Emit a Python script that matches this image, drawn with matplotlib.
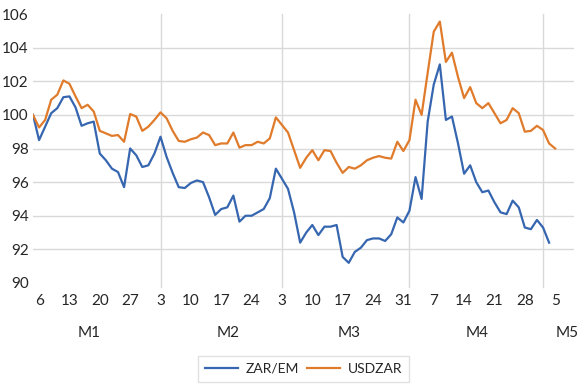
import numpy as np
import matplotlib
matplotlib.use('Agg')
import matplotlib.pyplot as plt

plt.rcParams['font.family'] = ['Lato', 'DejaVu Sans']

# daily index values (business days)
zar_em = [100.0, 98.5, 99.3, 100.1, 100.4, 101.05, 101.1, 100.45, 99.35, 99.5,
          99.6, 97.7, 97.3, 96.8, 96.6, 95.7, 98.0, 97.6, 96.9, 97.0,
          97.7, 98.7, 97.5, 96.55, 95.7, 95.65, 95.95, 96.1, 96.0, 95.1,
          94.05, 94.4, 94.5, 95.2, 93.65, 94.0, 94.0, 94.2, 94.4, 95.05,
          96.8, 96.2, 95.6, 94.2, 92.4, 93.0, 93.45, 92.85, 93.35, 93.35,
          93.45, 91.55, 91.2, 91.85, 92.1, 92.55, 92.65, 92.65, 92.5, 92.9,
          93.9, 93.6, 94.3, 96.3, 95.0, 99.6, 101.8, 103.0, 99.7, 99.9,
          98.3, 96.5, 97.0, 96.0, 95.4, 95.5, 94.8, 94.2, 94.1, 94.9,
          94.5, 93.3, 93.2, 93.75, 93.3, 92.4]

usdzar = [100.0, 99.25, 99.7, 100.9, 101.2, 102.05, 101.85, 101.1, 100.4, 100.6,
          100.2, 99.05, 98.9, 98.75, 98.8, 98.4, 100.05, 99.9, 99.05, 99.3,
          99.7, 100.15, 99.8, 99.05, 98.45, 98.4, 98.55, 98.65, 98.95, 98.8,
          98.2, 98.3, 98.3, 98.95, 98.05, 98.2, 98.2, 98.4, 98.3, 98.6,
          99.85, 99.4, 98.95, 97.9, 96.85, 97.45, 97.9, 97.3, 97.9, 97.85,
          97.15, 96.55, 96.9, 96.8, 97.0, 97.3, 97.45, 97.55, 97.45, 97.4,
          98.4, 97.85, 98.5, 100.9, 100.0, 102.5, 104.95, 105.55, 103.15, 103.7,
          102.25, 101.0, 101.65, 100.7, 100.4, 100.7, 100.1, 99.5, 99.7, 100.4,
          100.1, 99.0, 99.05, 99.35, 99.1, 98.3, 98.0]

day_labels = ['6', '13', '20', '27', '3', '10', '17', '24', '3', '10', '17',
              '24', '31', '7', '14', '21', '28', '5']
day_idx = list(range(1, 87, 5))
months = ['M1', 'M2', 'M3', 'M4', 'M5']
month_starts = [21, 41, 62, 84]

fig = plt.figure(figsize=(5.79, 3.85), dpi=100)
ax = fig.add_axes([33 / 579, 102 / 385, 541 / 579, 269 / 385])

grid_col = '#d9d9d9'
for v in range(92, 105, 2):
    ax.axhline(v, color=grid_col, lw=1, zorder=0)
for m in month_starts:
    ax.plot([m, m], [-0.015, 1], color=grid_col, lw=1, zorder=0,
            transform=ax.get_xaxis_transform(), clip_on=False)

ax.plot(np.arange(len(zar_em)), zar_em, color='#3666b0', lw=1.6, label='ZAR/EM')
ax.plot(np.arange(len(usdzar)), usdzar, color='#e07b2b', lw=1.6, label='USDZAR')

ax.set_xlim(0, 89.1)
ax.set_ylim(90, 106)
ax.set_yticks(range(90, 107, 2))
ax.set_xticks(day_idx)
ax.set_xticklabels(day_labels)
ax.tick_params(axis='both', length=0, labelsize=11, colors='#262626')
ax.tick_params(axis='y', pad=3)
ax.tick_params(axis='x', pad=8)
for s in ax.spines.values():
    s.set_visible(False)

# month labels under the day labels
month_x = [89, 228.5, 349, 477, 567]
for name, px in zip(months, month_x):
    ax.text((px - 33) / 541, -0.186, name, transform=ax.transAxes,
            ha='center', va='center', fontsize=11, color='#262626')

leg = fig.legend(loc='upper center', bbox_to_anchor=(303.5 / 579, 29 / 385),
                 ncol=2, fontsize=10, frameon=True, fancybox=False,
                 edgecolor='#d9d9d9', handlelength=2.4, handletextpad=0.5,
                 columnspacing=0.6, borderpad=0.5, borderaxespad=0)
for t in leg.get_texts():
    t.set_color('#262626')

fig.savefig('out.png', dpi=100)
